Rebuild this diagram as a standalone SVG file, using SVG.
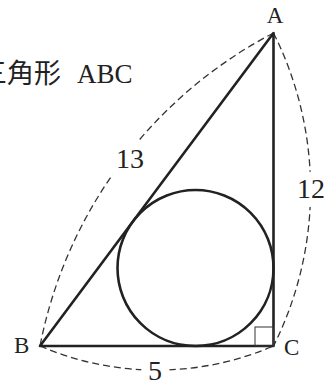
<svg xmlns="http://www.w3.org/2000/svg" width="333" height="385" viewBox="0 0 333 385">
<style>
.bg{fill:#fff}
.edge{fill:none;stroke:#222;stroke-width:2.6;stroke-linejoin:round;stroke-linecap:round}
.dash{fill:none;stroke:#333;stroke-width:1.3;stroke-dasharray:7 4}
.thin{fill:none;stroke:#333;stroke-width:1}
.lbl{fill:#222}
.halo{paint-order:stroke;stroke:#fff;stroke-width:18;stroke-linejoin:round}
</style>
<rect class="bg" x="0" y="0" width="333" height="385"/>
<g id="connectors">
  <path id="arc-AB" class="dash" d="M273.5,33 A450,450 0 0 0 40,346"/>
  <path id="arc-AC" class="dash" d="M273.5,33 A349,349 0 0 1 273.5,346"/>
  <path id="arc-BC" class="dash" d="M40,346 A295,295 0 0 0 273.5,346"/>
</g>
<g id="triangle">
  <path class="edge" d="M273.5,33 L40,346 L273.5,346 Z"/>
</g>
<g id="incircle">
  <circle class="edge" cx="195.5" cy="268" r="78"/>
</g>
<g id="right-angle">
  <rect class="thin" x="255" y="327" width="18.5" height="19"/>
</g>
<g id="labels" font-family="Liberation Serif, Times New Roman, DejaVu Serif, Noto Sans CJK JP, serif">
  <text class="lbl" x="-20" y="83" font-size="27"><tspan font-family="Noto Sans CJK JP, sans-serif">三角形</tspan><tspan x="77">ABC</tspan></text>
  <text class="lbl" x="275" y="23" font-size="23" text-anchor="middle">A</text>
  <text class="lbl" x="14" y="353" font-size="23">B</text>
  <text class="lbl" x="284" y="355" font-size="23">C</text>
  <text class="lbl halo" x="155" y="380" font-size="28" text-anchor="middle">5</text>
  <text class="lbl halo" x="297" y="198" font-size="28">12</text>
  <text class="lbl halo" x="116" y="168" font-size="28">13</text>
</g>
</svg>
